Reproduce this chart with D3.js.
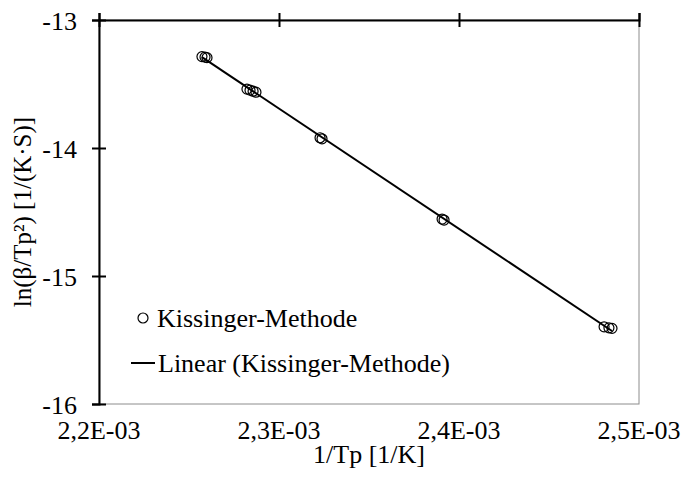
<!DOCTYPE html>
<html>
  <head>
    <meta charset="UTF-8">
    <style>
      body {
        margin: 0;
        background: white;
      }

      svg, svg text {
        font-family: 'Liberation Serif', 'Times New Roman', Times, serif;
        fill: black;
      }
    </style>
    <script src="https://d3js.org/d3.v7.min.js"></script>
  </head>

  <body>
    <svg id="chart"></svg>

    <script type="text/javascript">
      // Kissinger points: x = 1/Tp, y = ln(beta/Tp^2)
      let invTp = [
        2.2572e-3, 2.2589e-3, 2.2600e-3,
        2.2822e-3, 2.2839e-3, 2.2856e-3, 2.2872e-3,
        2.3228e-3, 2.3239e-3,
        2.3906e-3, 2.3917e-3,
        2.4806e-3, 2.4833e-3, 2.4850e-3
      ]
      let lnBeta = [
        -13.286, -13.290, -13.294,
        -13.540, -13.548, -13.556, -13.564,
        -13.920, -13.928,
        -14.555, -14.563,
        -15.397, -15.405, -15.409
      ]

      let xTicks = [2.2e-3, 2.3e-3, 2.4e-3, 2.5e-3]
      let yTicks = [-13, -14, -15, -16]

      let seriesName = 'Kissinger-Methode'
      let trendName = 'Linear (Kissinger-Methode)'
      let xTitle = '1/Tp [1/K]'
      let yTitle = 'ln(β/Tp²) [1/(K·S)]'

      function fmtX(d) {
        let s = d.toExponential(1).replace('.', ',')
        return s.replace(/e-(\d)$/, 'E-0$1')
      }

      function drawChart() {
        let width = 682
        let height = 477
        let margin = { top: 20, right: 43, bottom: 73, left: 99 }
        let tickFont = 26
        let titleFont = 25
        let legendFont = 26

        let svg = d3.select('#chart')
          .attr('width', width)
          .attr('height', height)

        let x = d3.scaleLinear()
          .domain([2.2e-3, 2.5e-3])
          .range([margin.left, width - margin.right])

        let y = d3.scaleLinear()
          .domain([-16, -13])
          .range([height - margin.bottom, margin.top])

        // plot area border (thin, grey)
        svg.append('rect')
          .attr('x', x(2.2e-3))
          .attr('y', y(-13))
          .attr('width', x(2.5e-3) - x(2.2e-3))
          .attr('height', y(-16) - y(-13))
          .attr('fill', 'none')
          .attr('stroke', '#8c8c8c')
          .attr('stroke-width', 1)

        // x axis sits on top (crosses at -13), ticks cross the line
        let xAxis = svg.append('g')
          .attr('transform', `translate(0, ${y(-13)})`)
          .call(d3.axisTop(x).tickValues(xTicks).tickSize(7).tickFormat(''))
        xAxis.select('.domain').attr('stroke', 'black').attr('stroke-width', 2)
        xAxis.selectAll('.tick line')
          .attr('y1', 7)
          .attr('stroke', 'black')
          .attr('stroke-width', 2)

        // x tick labels low, below the plot
        svg.append('g')
          .selectAll('text')
          .data(xTicks)
          .enter()
          .append('text')
          .attr('x', d => x(d))
          .attr('y', height - margin.bottom + 35)
          .attr('text-anchor', 'middle')
          .style('font-size', tickFont + 'px')
          .text(fmtX)

        let yAxis = svg.append('g')
          .attr('transform', `translate(${x(2.2e-3)}, 0)`)
          .call(d3.axisLeft(y).tickValues(yTicks).tickSize(7).tickPadding(15).tickFormat(d => String(d)))
        yAxis.attr('font-family', null).attr('font-size', null)
        yAxis.select('.domain').attr('stroke', 'black').attr('stroke-width', 2)
        yAxis.selectAll('.tick line')
          .attr('x1', 7)
          .attr('stroke', 'black')
          .attr('stroke-width', 2)
        yAxis.selectAll('.tick text')
          .style('font-size', tickFont + 'px')
          .attr('fill', 'black')
          .attr('dy', '0.35em')

        // axis titles
        svg.append('text')
          .attr('x', (x(2.2e-3) + x(2.5e-3)) / 2)
          .attr('y', height - 14)
          .attr('text-anchor', 'middle')
          .style('font-size', tickFont + 'px')
          .text(xTitle)

        svg.append('text')
          .attr('transform', `translate(31, ${(y(-13) + y(-16)) / 2}) rotate(-90)`)
          .attr('text-anchor', 'middle')
          .style('font-size', titleFont + 'px')
          .text(yTitle)

        // least squares trendline over the data range
        let mx = d3.mean(invTp)
        let my = d3.mean(lnBeta)
        let sxy = d3.sum(invTp, (v, i) => (v - mx) * (lnBeta[i] - my))
        let sxx = d3.sum(invTp, v => (v - mx) * (v - mx))
        let slope = sxy / sxx
        let icpt = my - slope * mx
        let xExt = d3.extent(invTp)

        svg.append('line')
          .attr('x1', x(xExt[0]))
          .attr('y1', y(icpt + slope * xExt[0]))
          .attr('x2', x(xExt[1]))
          .attr('y2', y(icpt + slope * xExt[1]))
          .attr('stroke', 'black')
          .attr('stroke-width', 2)

        svg.append('g')
          .selectAll('circle')
          .data(invTp)
          .enter()
          .append('circle')
          .attr('cx', d => x(d))
          .attr('cy', (d, i) => y(lnBeta[i]))
          .attr('r', 5)
          .attr('fill', 'none')
          .attr('stroke', 'black')
          .attr('stroke-width', 1.2)

        // legend
        let legend = svg.append('g')
        legend.append('circle')
          .attr('cx', 143)
          .attr('cy', 318)
          .attr('r', 5)
          .attr('fill', 'none')
          .attr('stroke', 'black')
          .attr('stroke-width', 1.2)
        legend.append('text')
          .attr('x', 157)
          .attr('y', 318)
          .attr('dy', '0.35em')
          .style('font-size', legendFont + 'px')
          .text(seriesName)
        legend.append('line')
          .attr('x1', 131)
          .attr('x2', 155)
          .attr('y1', 363)
          .attr('y2', 363)
          .attr('stroke', 'black')
          .attr('stroke-width', 2)
        legend.append('text')
          .attr('x', 158)
          .attr('y', 363)
          .attr('dy', '0.35em')
          .style('font-size', legendFont + 'px')
          .text(trendName)
      }

      drawChart()
    </script>
  </body>
</html>
